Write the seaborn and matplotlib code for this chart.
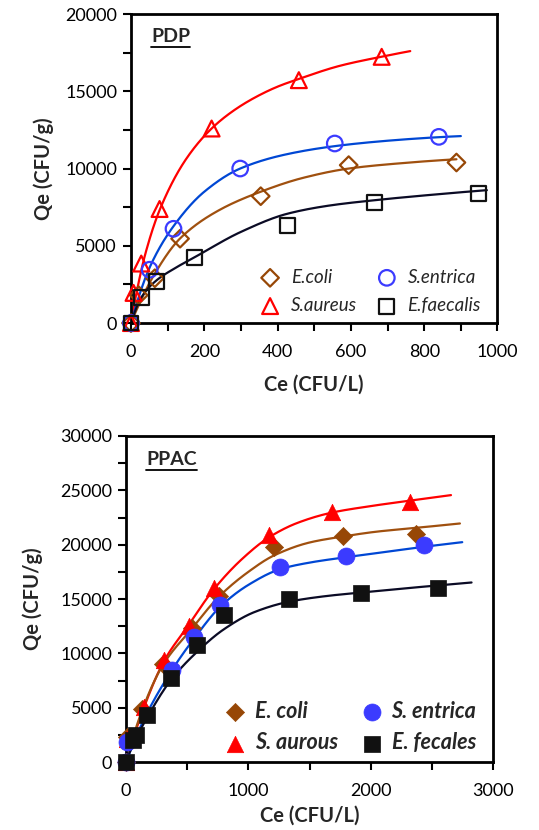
import numpy as np
import pandas as pd
import matplotlib
matplotlib.use("Agg")
import matplotlib.pyplot as plt
import seaborn as sns
from matplotlib.ticker import MultipleLocator
from matplotlib.lines import Line2D

# ---------------- PDP panel: measured points ----------------
pdp_ecoli_ce = [0, 21, 65, 134, 354, 594, 888]
pdp_ecoli_qe = [0, 1800, 2900, 5460, 8210, 10220, 10390]
pdp_entrica_ce = [0, 51, 116, 298, 556, 840]
pdp_entrica_qe = [0, 3450, 6100, 10000, 11620, 12050]
pdp_aureus_ce = [0, 7, 28, 78, 220, 458, 684]
pdp_aureus_qe = [0, 1950, 3850, 7380, 12590, 15720, 17230]
pdp_faecalis_ce = [0, 28, 69, 173, 426, 665, 947]
pdp_faecalis_qe = [0, 1650, 2700, 4220, 6310, 7780, 8380]

# PDP fitted curves
pdp_ecoli_fit_ce = [0, 65, 135, 240, 354, 470, 594, 740, 888]
pdp_ecoli_fit_qe = [0, 3200, 5500, 7300, 8500, 9400, 10000, 10350, 10600]
pdp_entrica_fit_ce = [0, 51, 117, 200, 298, 420, 556, 700, 840, 900]
pdp_entrica_fit_qe = [0, 3600, 6300, 8500, 10000, 10900, 11450, 11800, 12030, 12100]
pdp_aureus_fit_ce = [0, 15, 40, 80, 150, 220, 280, 340, 400, 458, 570, 684, 762]
pdp_aureus_fit_qe = [0, 1950, 4550, 7420, 10600, 12590, 13750, 14620, 15300, 15800, 16650, 17240, 17600]
pdp_faecalis_fit_ce = [0, 28, 69, 120, 173, 300, 426, 540, 665, 820, 971]
pdp_faecalis_fit_qe = [0, 1650, 2750, 3550, 4250, 5900, 7070, 7600, 7950, 8300, 8600]

# ---------------- PPAC panel: measured points ----------------
ppac_ecoli_ce = [0, 10, 133, 300, 540, 758, 1208, 1772, 2373]
ppac_ecoli_qe = [0, 2300, 4900, 9000, 12300, 15290, 19750, 20790, 20970]
ppac_entrica_ce = [0, 10, 372, 559, 771, 1261, 1800, 2432]
ppac_entrica_qe = [0, 1800, 8440, 11500, 14420, 17960, 18970, 19960]
ppac_aurous_ce = [0, 5, 146, 311, 514, 718, 1172, 1682, 2318]
ppac_aurous_qe = [0, 2100, 5060, 9360, 12530, 15970, 20880, 23030, 23950]
ppac_fecales_ce = [0, 53, 80, 168, 364, 577, 798, 1331, 1923, 2548]
ppac_fecales_qe = [0, 1990, 2450, 4300, 7770, 10790, 13500, 14990, 15570, 16030]

# PPAC fitted curves
ppac_ecoli_fit_ce = [0, 133, 300, 540, 758, 1000, 1208, 1500, 1772, 2050, 2373, 2729]
ppac_ecoli_fit_qe = [0, 4800, 8900, 12300, 15200, 17500, 19000, 20200, 20750, 21200, 21550, 21950]
ppac_entrica_fit_ce = [0, 150, 372, 559, 771, 1000, 1261, 1500, 1800, 2100, 2432, 2748]
ppac_entrica_fit_qe = [0, 4000, 8400, 11400, 14300, 16300, 17750, 18350, 18850, 19300, 19800, 20230]
ppac_aurous_fit_ce = [0, 146, 311, 505, 718, 950, 1172, 1400, 1682, 2000, 2318, 2656]
ppac_aurous_fit_qe = [0, 5000, 9300, 12500, 15900, 18700, 20700, 22000, 22950, 23550, 24050, 24560]
ppac_fecales_fit_ce = [0, 53, 168, 364, 577, 798, 1050, 1331, 1620, 1923, 2250, 2548, 2824]
ppac_fecales_fit_qe = [0, 1500, 4000, 7500, 10100, 12200, 13800, 14750, 15250, 15600, 15950, 16250, 16520]

# labels
pdp_labels = ["E.coli", "S.entrica", "S.aureus", "E.faecalis"]
ppac_labels = ["E. coli", "S. entrica", "S. aurous", "E. fecales"]

sns.set_theme(style="ticks")
plt.rcParams["font.family"] = ["Lato", "DejaVu Sans"]

BROWN = "#974706"
BROWN_LINE = "#A0500F"
BLUE_LINE = "#0047D4"
BLUE_MARK = "#3B3BFF"
RED = "#FF0000"
BLACK_LINE = "#0B0B25"
BLACK = "#111111"


def smooth(xk, yk, n=400):
    """Monotone cubic (PCHIP) rendering of a line through the read curve points."""
    x = np.asarray(xk, float)
    y = np.asarray(yk, float)
    h = np.diff(x)
    d = np.diff(y) / h
    m = np.zeros_like(x)
    for k in range(1, len(x) - 1):
        if d[k - 1] * d[k] > 0:
            w1 = 2 * h[k] + h[k - 1]
            w2 = h[k] + 2 * h[k - 1]
            m[k] = (w1 + w2) / (w1 / d[k - 1] + w2 / d[k])
    m0 = ((2 * h[0] + h[1]) * d[0] - h[0] * d[1]) / (h[0] + h[1])
    m[0] = m0 if m0 * d[0] > 0 else 0.0
    mn = ((2 * h[-1] + h[-2]) * d[-1] - h[-1] * d[-2]) / (h[-1] + h[-2])
    m[-1] = mn if mn * d[-1] > 0 else 0.0
    xs = np.linspace(x[0], x[-1], n)
    idx = np.clip(np.searchsorted(x, xs) - 1, 0, len(x) - 2)
    t = (xs - x[idx]) / h[idx]
    h00 = 2 * t**3 - 3 * t**2 + 1
    h10 = t**3 - 2 * t**2 + t
    h01 = -2 * t**3 + 3 * t**2
    h11 = t**3 - t**2
    ys = h00 * y[idx] + h10 * h[idx] * m[idx] + h01 * y[idx + 1] + h11 * h[idx] * m[idx + 1]
    return xs, ys


fig = plt.figure(figsize=(5.39, 8.30), dpi=100)
ax1 = fig.add_axes([0.2430, 0.6108, 0.6800, 0.3723])
ax2 = fig.add_axes([0.2338, 0.0819, 0.6810, 0.3928])


def draw_curve(ax, xk, yk, color):
    xs, ys = smooth(xk, yk)
    sns.lineplot(x=xs, y=ys, ax=ax, color=color, linewidth=1.6,
                 sort=False, estimator=None, legend=False, zorder=2)


def draw_points(ax, ce, qe, marker, size, face, edge, lw, label):
    sns.scatterplot(x=ce, y=qe, ax=ax, marker=marker, s=size,
                    facecolor=face, edgecolor=edge, linewidth=lw,
                    label=label, zorder=3, clip_on=False)


# ---- PDP ----
draw_curve(ax1, pdp_aureus_fit_ce, pdp_aureus_fit_qe, RED)
draw_curve(ax1, pdp_entrica_fit_ce, pdp_entrica_fit_qe, BLUE_LINE)
draw_curve(ax1, pdp_ecoli_fit_ce, pdp_ecoli_fit_qe, BROWN_LINE)
draw_curve(ax1, pdp_faecalis_fit_ce, pdp_faecalis_fit_qe, BLACK_LINE)

draw_points(ax1, pdp_ecoli_ce, pdp_ecoli_qe, "D", 80, "none", BROWN, 1.6, pdp_labels[0])
draw_points(ax1, pdp_aureus_ce, pdp_aureus_qe, "^", 130, "none", RED, 1.6, pdp_labels[2])
draw_points(ax1, pdp_entrica_ce, pdp_entrica_qe, "o", 125, "none", BLUE_MARK, 1.6, pdp_labels[1])
draw_points(ax1, pdp_faecalis_ce, pdp_faecalis_qe, "s", 115, "none", BLACK, 1.6, pdp_labels[3])

# ---- PPAC ----
draw_curve(ax2, ppac_aurous_fit_ce, ppac_aurous_fit_qe, RED)
draw_curve(ax2, ppac_ecoli_fit_ce, ppac_ecoli_fit_qe, BROWN_LINE)
draw_curve(ax2, ppac_entrica_fit_ce, ppac_entrica_fit_qe, BLUE_LINE)
draw_curve(ax2, ppac_fecales_fit_ce, ppac_fecales_fit_qe, BLACK_LINE)

draw_points(ax2, ppac_ecoli_ce, ppac_ecoli_qe, "D", 85, BROWN, BROWN, 0.5, ppac_labels[0])
draw_points(ax2, ppac_aurous_ce, ppac_aurous_qe, "^", 140, RED, RED, 0.5, ppac_labels[2])
draw_points(ax2, ppac_entrica_ce, ppac_entrica_qe, "o", 150, BLUE_MARK, BLUE_MARK, 0.5, ppac_labels[1])
draw_points(ax2, ppac_fecales_ce, ppac_fecales_qe, "s", 140, BLACK, BLACK, 0.5, ppac_labels[3])


def style_axes(ax, xmax, xmaj, xmin, ymax, ymaj, ymin, xlabel_pad, ylabel_pad):
    ax.set_xlim(0, xmax)
    ax.set_ylim(0, ymax)
    ax.xaxis.set_major_locator(MultipleLocator(xmaj))
    ax.xaxis.set_minor_locator(MultipleLocator(xmin))
    ax.yaxis.set_major_locator(MultipleLocator(ymaj))
    ax.yaxis.set_minor_locator(MultipleLocator(ymin))
    for sp in ax.spines.values():
        sp.set_visible(True)
        sp.set_linewidth(2.0)
        sp.set_color("black")
    ax.tick_params(which="both", direction="out", width=1.5, color="black",
                   labelsize=13, labelcolor="black")
    ax.tick_params(which="major", length=6, pad=4)
    ax.tick_params(which="minor", length=6)
    ax.tick_params(axis="x", which="major", pad=9)
    ax.set_xlabel("Ce (CFU/L)", fontsize=14.5, fontweight="bold", labelpad=xlabel_pad)
    ax.set_ylabel("Qe (CFU/g)", fontsize=14.5, fontweight="bold", labelpad=ylabel_pad)
    ax.grid(False)


style_axes(ax1, 1000, 200, 100, 20000, 5000, 2500, 11, 8)
style_axes(ax2, 3000, 1000, 500, 30000, 5000, 2500, 5, 12)

# legends
h1, l1 = ax1.get_legend_handles_labels()
order1 = [l1.index(pdp_labels[0]), l1.index(pdp_labels[2]),
          l1.index(pdp_labels[1]), l1.index(pdp_labels[3])]
leg1 = ax1.legend([h1[i] for i in order1], [l1[i] for i in order1], ncol=2,
                  frameon=False, loc="lower right", bbox_to_anchor=(0.975, 0.005),
                  prop={"family": ["Lato", "DejaVu Sans"], "style": "italic", "size": 13.5},
                  handletextpad=0.5, columnspacing=1.0, labelspacing=0.6,
                  borderaxespad=0.0, handlelength=1.2)

h2, l2 = ax2.get_legend_handles_labels()
order2 = [l2.index(ppac_labels[0]), l2.index(ppac_labels[2]),
          l2.index(ppac_labels[1]), l2.index(ppac_labels[3])]
leg2 = ax2.legend([h2[i] for i in order2], [l2[i] for i in order2], ncol=2,
                  frameon=False, loc="lower right", bbox_to_anchor=(0.978, 0.0),
                  prop={"family": ["Lato", "DejaVu Sans"], "style": "italic",
                        "weight": "bold", "size": 15.5},
                  handletextpad=0.3, columnspacing=1.0, labelspacing=0.5,
                  borderaxespad=0.0, handlelength=1.2)

# panel titles with underline
t1 = ax1.text(0.055, 0.955, "PDP", transform=ax1.transAxes, fontsize=14,
              fontweight="bold", va="top", ha="left")
t2 = ax2.text(0.055, 0.955, "PPAC", transform=ax2.transAxes, fontsize=14,
              fontweight="bold", va="top", ha="left")
fig.canvas.draw()
renderer = fig.canvas.get_renderer()
for ax, t in ((ax1, t1), (ax2, t2)):
    bb = t.get_window_extent(renderer).transformed(ax.transAxes.inverted())
    ax.add_line(Line2D([bb.x0, bb.x1], [bb.y0 - 0.006, bb.y0 - 0.006],
                       transform=ax.transAxes, color="black", linewidth=1.3))

fig.savefig("out.png", dpi=100, facecolor="white")
